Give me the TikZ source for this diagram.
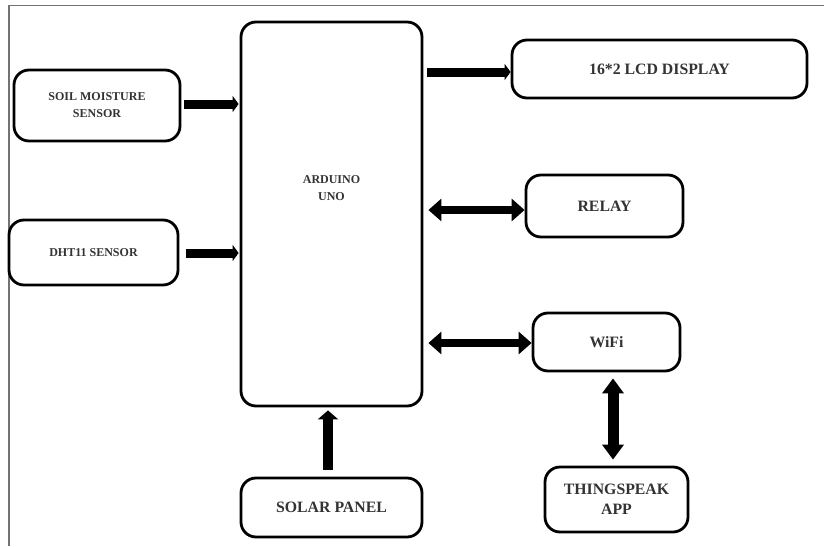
\documentclass[tikz,border=0pt]{standalone}
\usepackage{fontspec}
\setmainfont{Liberation Serif}
\usetikzlibrary{arrows.meta,calc}
\begin{document}
\begin{tikzpicture}[x=1pt,y=-1pt,
  box/.style={draw=black, line width=2.8pt, rounded corners=15pt, align=center, inner sep=0pt, text=black!80},
  smallfont/.style={font=\bfseries\fontsize{12}{17}\selectfont},
  bigfont/.style={font=\bfseries\fontsize{15.8}{20}\selectfont},
  onearrow/.style={line width=9pt, -{Triangle[width=16pt,length=6pt]}},
  uparrow/.style={line width=10pt, -{Triangle[width=20pt,length=9pt]}},
  twoarrow/.style={line width=8pt, {Triangle[width=22pt,length=13pt]}-{Triangle[width=22pt,length=13pt]}},
  vtwoarrow/.style={line width=11pt, {Triangle[width=21pt,length=15pt]}-{Triangle[width=21pt,length=15pt]}}]
\useasboundingbox (0,0) rectangle (824,546);
\fill[white] (0,0) rectangle (824,546);
\draw[black!55, line width=1.2pt] (9,546) -- (9,5.5) -- (824,5.5);

\node[box, smallfont, minimum width=166pt, minimum height=71pt] (soil) at (97,105.5) {SOIL MOISTURE\\SENSOR};
\node[box, smallfont, minimum width=169pt, minimum height=65pt] (dht) at (93.5,252.5) {DHT11 SENSOR};
\node[box, minimum width=181pt, minimum height=384pt,
  label={[smallfont, text=black!80, align=center, yshift=26pt]center:ARDUINO\\UNO}] (ard) at (331.5,214) {};
\node[box, bigfont, minimum width=295pt, minimum height=58pt] (lcd) at (659.5,69) {16*2 LCD DISPLAY};
\node[box, bigfont, minimum width=157pt, minimum height=62pt] (relay) at (604.5,206) {RELAY};
\node[box, bigfont, minimum width=147pt, minimum height=58pt] (wifi) at (606.5,342) {WiFi};
\node[box, bigfont, minimum width=143pt, minimum height=65pt] (thing) at (616.5,499.5) {THINGSPEAK\\APP};
\node[box, bigfont, minimum width=181pt, minimum height=59pt] (solar) at (331.5,507.5) {\raisebox{-4pt}{SOLAR PANEL}};

\draw[onearrow] ($(soil.east)+(3,-1.5)$) -- ($(ard.west |- soil.east)+(-1,-1.5)$);
\draw[onearrow] ($(dht.east)+(7,0.5)$) -- ($(ard.west |- dht.east)+(-1,0.5)$);
\draw[onearrow] ($(ard.east |- lcd.west)+(4,3)$) -- ($(lcd.west)+(0,3)$);
\draw[twoarrow] ($(ard.east |- relay.west)+(5,4)$) -- ($(relay.west)+(0,4)$);
\draw[twoarrow] ($(ard.east |- wifi.west)+(5,1)$) -- ($(wifi.west)+(0,1)$);
\draw[uparrow] ($(solar.north)+(-3.5,-7)$) -- ($(ard.south)+(-3.5,3)$);
\draw[vtwoarrow] ($(wifi.south)+(6.5,6)$) -- ($(wifi.south |- thing.north)+(6.5,-6)$);
\end{tikzpicture}
\end{document}
